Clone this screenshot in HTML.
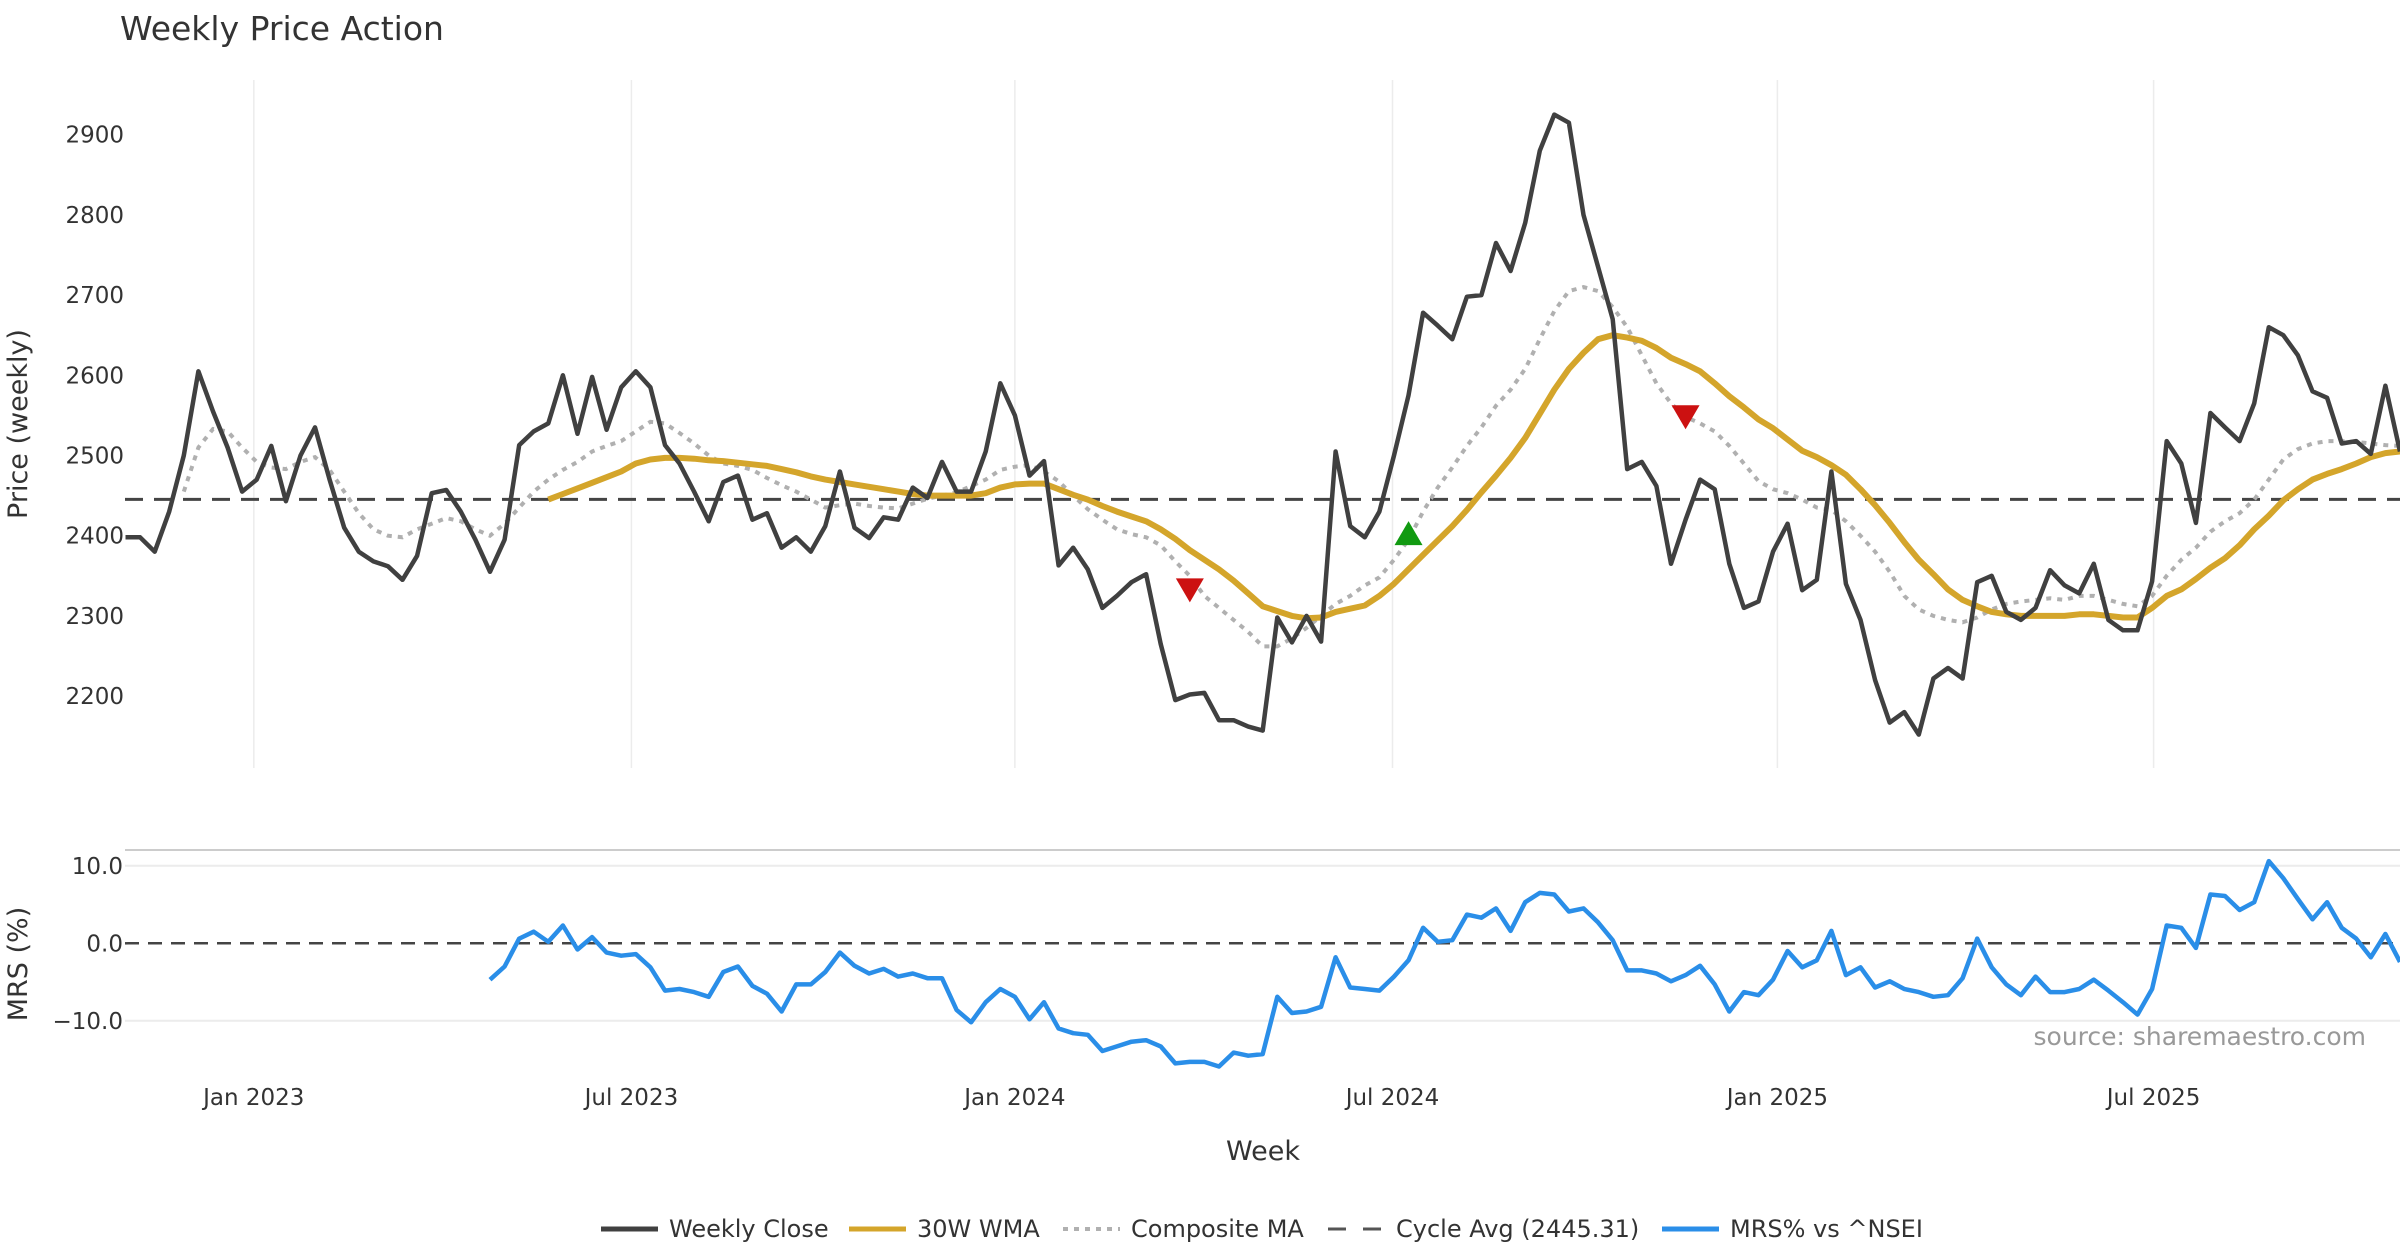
<!DOCTYPE html>
<html><head><meta charset="utf-8"><style>
html,body{margin:0;padding:0;background:#fff;}
svg{display:block;font-family:"DejaVu Sans","Liberation Sans",sans-serif;}
</style></head><body>
<svg id="chart" width="2400" height="1260" viewBox="0 0 2400 1260">
<text x="120" y="40" font-size="33" fill="#333">Weekly Price Action</text>
<g id="grid"></g>
<g id="series"></g>
<g id="axes"></g>
<text x="2366" y="1045" font-size="25" fill="#999" text-anchor="end">source: sharemaestro.com</text>
<g id="legend"></g>
</svg>
<script>
const closeVals=[2398,2398,2380,2430,2500,2605,2555,2510,2455,2470,
2512,2443,2500,2535,2470,2410,2380,2368,2362,2345,
2375,2453,2457,2430,2395,2355,2395,2513,2530,2540,
2600,2527,2598,2532,2585,2605,2585,2513,2490,2455,
2418,2467,2475,2420,2428,2385,2398,2380,2412,2480,
2410,2397,2423,2420,2460,2447,2492,2455,2455,2505,
2590,2550,2475,2493,2363,2385,2358,2310,2325,2342,
2352,2265,2195,2202,2204,2170,2170,2162,2157,2298,
2267,2300,2268,2505,2412,2398,2430,2500,2575,2678,
2662,2645,2698,2700,2765,2730,2790,2880,2925,2915,
2800,2735,2670,2483,2492,2462,2365,2420,2470,2458,
2365,2310,2318,2380,2415,2332,2345,2480,2340,2295,
2220,2167,2180,2152,2222,2235,2222,2342,2350,2305,
2295,2310,2357,2338,2328,2365,2295,2282,2282,2343,
2518,2490,2416,2553,2535,2518,2565,2660,2650,2625,
2580,2572,2515,2518,2502,2587,2505];
const wmaStart=29;
const wmaVals=[2445,2452,2459,2466,2473,2480,2490,2495,2497,2497,2496,2494,2493,2491,2489,2487,2483,2479,2474,2470,2467,2464,2461,2458,2455,2452,2450,2450,2450,2450,2453,2460,2464,2465,2465,2458,2451,2445,2437,2430,2424,2418,2408,2396,2382,2370,2358,2344,2328,2312,2306,2300,2297,2298,2305,2309,2313,2325,2340,2358,2376,2394,2412,2432,2454,2475,2497,2522,2552,2582,2608,2628,2645,2650,2647,2643,2634,2622,2614,2605,2590,2574,2560,2545,2534,2520,2506,2498,2488,2476,2458,2438,2416,2392,2370,2352,2333,2320,2312,2305,2302,2300,2300,2300,2300,2302,2302,2300,2298,2298,2310,2325,2333,2346,2360,2372,2388,2408,2425,2444,2458,2470,2477,2483,2490,2498,2503,2505];
const compStart=4;
const compVals=[2455,2510,2533,2530,2510,2492,2485,2483,2492,2498,2482,2455,2428,2408,2400,2398,2408,2415,2422,2418,2408,2400,2415,2435,2455,2470,2482,2492,2505,2512,2518,2530,2542,2540,2528,2515,2500,2490,2487,2482,2472,2463,2455,2445,2435,2438,2440,2437,2435,2434,2440,2446,2450,2454,2462,2470,2482,2486,2488,2480,2468,2450,2433,2420,2408,2402,2398,2388,2368,2350,2325,2310,2295,2280,2262,2262,2272,2285,2300,2315,2325,2338,2348,2370,2395,2430,2460,2485,2512,2535,2562,2582,2608,2645,2680,2705,2710,2705,2685,2660,2625,2590,2565,2548,2540,2530,2512,2490,2468,2458,2453,2445,2435,2432,2418,2400,2380,2355,2325,2308,2300,2295,2292,2298,2308,2315,2318,2320,2322,2320,2325,2325,2320,2315,2312,2325,2350,2370,2385,2405,2418,2428,2445,2470,2495,2508,2515,2518,2518,2517,2515,2513,2512];
const mrsStart=25;
const mrsVals=[-4.7,-3,0.6,1.5,0.2,2.3,-0.8,0.8,-1.2,-1.6,-1.4,-3.1,-6.1,-5.9,-6.3,-6.9,-3.7,-3,-5.5,-6.5,-8.8,-5.3,-5.3,-3.7,-1.2,-2.9,-3.9,-3.3,-4.3,-3.9,-4.5,-4.5,
-8.6,-10.2,-7.6,-5.9,-6.9,-9.8,-7.6,-11,-11.6,-11.8,-13.9,-13.3,-12.7,-12.5,-13.3,-15.5,-15.3,-15.3,-15.9,-14.1,-14.5,-14.3,
-6.9,-9,-8.8,-8.2,-1.8,-5.7,-5.9,-6.1,-4.3,-2.2,2,0.2,0.4,3.7,3.3,4.5,1.6,5.3,6.5,6.3,4.1,4.5,2.7,0.4,
-3.5,-3.5,-3.9,-4.9,-4.1,-2.9,-5.3,-8.8,-6.3,-6.7,-4.7,-1,-3.1,-2.2,1.6,-4.1,-3.1,-5.7,-4.9,-5.9,-6.3,-6.9,
-6.7,-4.5,0.6,-3.1,-5.3,-6.7,-4.3,-6.3,-6.3,-5.9,-4.7,-6.1,-7.6,-9.2,-5.9,2.3,2,-0.6,6.3,6.1,4.3,5.3,10.6,8.4,5.7,3.1,5.3,2,0.6,-1.8,1.2,-2.4];
const cycleAvg=2445.31;
const signalIdx=[73,88,107];
const signalPrice=[2333,2402,2549];
const signalDir=["down","up","down"];
const priceTicks=[2200,2300,2400,2500,2600,2700,2800,2900];
const mrsTicks=[10,0,-10];
const mrsTickLabels=["10.0","0.0","−10.0"];
const dateTickIdx=[8.8,34.7,61.0,86.9,113.3,139.1];
const dateTickLabels=["Jan 2023","Jul 2023","Jan 2024","Jul 2024","Jan 2025","Jul 2025"];

const NS="http://www.w3.org/2000/svg";
const X0=125.5,STEP=14.58,PL=125,PR=2400;
const xS=i=>X0+i*STEP;
const yP=p=>134.7+(2900-p)*0.802;
const yM=v=>943.3-v*7.75;
function mk(tag,attrs,parent){const e=document.createElementNS(NS,tag);for(const k in attrs)e.setAttribute(k,attrs[k]);parent.appendChild(e);return e;}
const grid=document.getElementById('grid'),ser=document.getElementById('series'),ax=document.getElementById('axes'),leg=document.getElementById('legend');
const clip=mk('clipPath',{id:'clipP'},document.getElementById('chart'));
mk('rect',{x:PL,y:70,width:PR-PL,height:1020},clip);

dateTickIdx.forEach((d,k)=>{
 const x=xS(d);
 const g=mk('line',{x1:x,x2:x,y1:80,y2:768,stroke:'#ececec','stroke-width':1.5},grid);
 
 
 const t=mk('text',{x:x,y:1105,'font-size':23,fill:'#333','text-anchor':'middle'},ax);
 t.textContent=dateTickLabels[k];
 
 
});
priceTicks.forEach(p=>{
 const t=mk('text',{x:124,y:yP(p)+8,'font-size':23,fill:'#333','text-anchor':'end'},ax);
 t.textContent=p;
 
 
});
mk('line',{x1:PL,x2:PR,y1:850,y2:850,stroke:'#ccc','stroke-width':2},grid);
mrsTicks.forEach((v,k)=>{
 if(v!==0){const l=mk('line',{x1:PL,x2:PR,y1:yM(v),y2:yM(v),stroke:'#ececec','stroke-width':2},grid);
 
 }
 const t=mk('text',{x:123,y:yM(v)+8,'font-size':23,fill:'#333','text-anchor':'end'},ax);
 t.textContent=mrsTickLabels[k];
 
 
});
let t=mk('text',{transform:'translate(27,424) rotate(-90)','font-size':27,fill:'#333','text-anchor':'middle'},ax);
t.textContent='Price (weekly)';


t=mk('text',{transform:'translate(27,964) rotate(-90)','font-size':27,fill:'#333','text-anchor':'middle'},ax);
t.textContent='MRS (%)';


t=mk('text',{x:1263,y:1160,'font-size':27,fill:'#333','text-anchor':'middle'},ax);
t.textContent='Week';



// cycle avg & mrs zero lines
let l=mk('line',{x1:PL,x2:PR,y1:yP(cycleAvg),y2:yP(cycleAvg),stroke:'#444','stroke-width':3,'stroke-dasharray':'18 11'},ser);


l=mk('line',{x1:PL,x2:PR,y1:yM(0),y2:yM(0),stroke:'#444','stroke-width':2.5,'stroke-dasharray':'14 9'},ser);



function path(vals,start,yf){return vals.map((v,k)=>(k?'L':'M')+xS(start+k).toFixed(1)+' '+yf(v).toFixed(1)).join(' ');}
let p=mk('path',{d:path(compVals,compStart,yP),fill:'none',stroke:'#b0b0b0','stroke-width':4,'stroke-dasharray':'5 6','clip-path':'url(#clipP)'},ser);


p=mk('path',{d:path(wmaVals,wmaStart,yP),fill:'none',stroke:'#D4A52B','stroke-width':6,'stroke-linejoin':'round','clip-path':'url(#clipP)'},ser);


p=mk('path',{d:path(closeVals,0,yP),fill:'none',stroke:'#404040','stroke-width':4.5,'stroke-linejoin':'round','clip-path':'url(#clipP)'},ser);


p=mk('path',{d:path(mrsVals,mrsStart,yM),fill:'none',stroke:'#2A8EE8','stroke-width':4.5,'stroke-linejoin':'round','clip-path':'url(#clipP)'},ser);



signalIdx.forEach((i,k)=>{
 const x=xS(i),y=yP(signalPrice[k]);
 const d=signalDir[k]==='up'?`M${x-14} ${y+11} L${x+14} ${y+11} L${x} ${y-13} Z`:`M${x-14} ${y-11} L${x+14} ${y-11} L${x} ${y+13} Z`;
 const m=mk('path',{d:d,fill:signalDir[k]==='up'?'#119A11':'#CC1111'},ser);
 
 
});

const legItems=[
 {x:601,label:'Weekly Close',stroke:'#404040',dash:'',w:5},
 {x:849,label:'30W WMA',stroke:'#D4A52B',dash:'',w:5},
 {x:1063,label:'Composite MA',stroke:'#b0b0b0',dash:'5 6',w:4},
 {x:1328,label:'Cycle Avg (2445.31)',stroke:'#555',dash:'18 17',w:3},
 {x:1662,label:'MRS% vs ^NSEI',stroke:'#2A8EE8',dash:'',w:5}];
legItems.forEach(it=>{
 const g=mk('g',{},leg);
 
 
 mk('line',{x1:it.x,x2:it.x+57,y1:1229,y2:1229,stroke:it.stroke,'stroke-width':it.w,'stroke-dasharray':it.dash},g);
 const tx=mk('text',{x:it.x+68,y:1237,'font-size':24,fill:'#333'},g);
 tx.textContent=it.label;
});
</script>
</body></html>
